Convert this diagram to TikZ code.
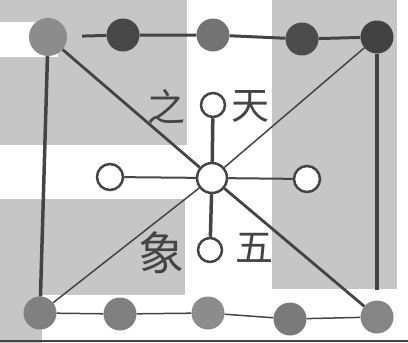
\documentclass[tikz,border=0pt]{standalone}
\usepackage{fontspec}
\usepackage{xcolor}
\usepackage{tikz}
\newfontfamily\cjk{Noto Sans CJK SC}

\definecolor{scan}{HTML}{C6C6C6}
\definecolor{ink}{HTML}{444444}

\tikzset{
  bead/.style={circle, inner sep=0pt, minimum size=33pt, draw=none},
  ring/.style={circle, inner sep=0pt, fill=white, draw=ink, line width=2.5pt},
  glyph/.style={text=ink, font=\cjk\fontsize{38}{38}\selectfont, inner sep=0pt}
}

\begin{document}
\begin{tikzpicture}[x=1pt, y=-1pt]
            \useasboundingbox (0,0) rectangle (408,343);
            % grey patches of the scan
            \fill[scan] (0,0) rectangle (187,145);
            \fill[white] (0,22) rectangle (58,57);
            \fill[scan] (0,199) rectangle (185,295);
            \fill[scan] (0,199) rectangle (42,343);
            \fill[scan] (272,0) rectangle (397,289);
            \draw[ink, line width=1.5pt] (0,341) -- (408,341);
            % outer beads
            \node[bead, minimum size=38pt, fill=black!45] (t1) at (48,37) {};
            \node[bead, fill=black!72] (t2) at (123,35) {};
            \node[bead, fill=black!55] (t3) at (213,35) {};
            \node[bead, fill=black!70] (t4) at (302,39) {};
            \node[bead, fill=black!74] (t5) at (377,37) {};
            \node[bead, fill=black!50] (b1) at (40,313) {};
            \node[bead, fill=black!50] (b2) at (120,314) {};
            \node[bead, fill=black!45] (b3) at (208,313) {};
            \node[bead, fill=black!52] (b4) at (290,319) {};
            \node[bead, fill=black!48] (b5) at (377,317) {};
            % inner rings
            \node[ring, minimum size=30pt] (c) at (212,178) {};
            \node[ring, minimum size=24pt] (n) at (213,105) {};
            \node[ring, minimum size=24pt] (s) at (210,250) {};
            \node[ring, minimum size=26pt] (w) at (110,177) {};
            \node[ring, minimum size=26pt] (e) at (307,179) {};
            % frame
            \draw[ink, line width=3pt, shorten <=15pt] (t1) -- (t2);
            \draw[ink, line width=3pt] (t2) -- (t3) -- (t4) -- (t5);
            \draw[ink, line width=1.5pt] (b1) -- (b2) -- (b3) -- (b4) -- (b5);
            \draw[ink, line width=3.5pt] (t1) -- (b1);
            \draw[ink, line width=3.5pt, shorten >=10pt] (t5) -- (b5);
            \draw[ink, line width=2.8pt] (t1) -- (c) -- (b5);
            \draw[ink, line width=1.5pt] (t5) -- (c) -- (b1);
            % spokes
            \draw[ink, line width=3.5pt] (c) -- (n);
            \draw[ink, line width=3.5pt] (c) -- (s);
            \draw[ink, line width=2pt] (c) -- (e);
            \draw[ink, line width=2pt] (c) -- (w);
            \node[glyph] (zhi) at (166,107) {之};
            \node[glyph] (tian) at (250,106) {天};
            \node[glyph, font=\cjk\fontsize{46}{46}\selectfont] (xiang) at (161,253) {象};
            \node[glyph] (wu) at (254,248) {五};
        \end{tikzpicture}
\end{document}
